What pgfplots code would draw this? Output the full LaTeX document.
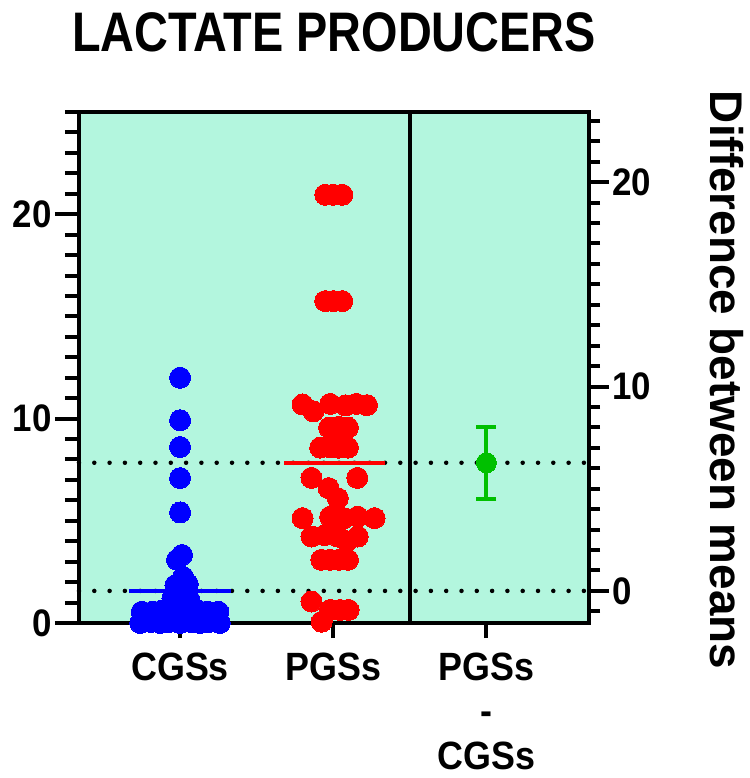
\documentclass[border=0pt]{standalone}
\usepackage{pgfplots}
\pgfplotsset{compat=1.18}
\usepackage{fontspec}
\setmainfont{Liberation Sans}
\usepackage{graphicx}
\definecolor{bg}{RGB}{179,246,222}
\definecolor{myblue}{RGB}{0,0,255}
\definecolor{myred}{RGB}{255,0,0}
\definecolor{mygreen}{RGB}{0,192,0}
\newcommand{\tl}[1]{\scalebox{1}[1.1]{#1}}

\pgfplotstableread{
x y
0 12.0
0 9.92
0 8.61
0 7.09
0 5.41
0.013 3.33
-0.02 3.09
0.02 2.25
-0.03 1.85
0.05 1.9
0.0 1.45
-0.05 1.2
0.06 1.15
0.0 0.95
-0.25 0.55
-0.18 0.55
-0.12 0.6
-0.05 0.55
0.05 0.55
0.12 0.6
0.18 0.55
0.25 0.55
-0.2 0.25
-0.13 0.25
-0.07 0.3
0 0.25
0.07 0.25
0.13 0.3
0.2 0.25
-0.26 0.0
-0.19 0.05
-0.13 0.0
-0.07 0.05
0 0.0
0.07 0.05
0.13 0.0
0.19 0.05
0.26 0.0
}\cgs

\pgfplotstableread{
x y
0.948 20.95
1.0 20.95
1.059 20.95
0.948 15.75
1.0 15.75
1.059 15.75
0.80 10.69
0.87 10.36
0.98 10.72
1.08 10.65
1.15 10.72
1.22 10.66
0.973 9.56
1.035 9.6
1.096 9.56
0.915 8.58
0.976 8.6
1.035 8.58
1.096 8.58
0.858 7.1
1.157 7.1
0.97 6.6
1.03 6.1
0.80 5.13
0.98 5.2
1.07 5.13
1.16 5.2
1.27 5.13
0.858 4.23
0.945 4.3
1.03 4.23
1.16 4.23
1.09 4.0
0.922 3.09
0.98 3.09
1.037 3.09
1.096 3.09
0.858 1.05
0.98 0.64
1.044 0.64
1.10 0.64
0.924 0.06
}\pgs

\begin{document}
\begin{tikzpicture}
\path[use as bounding box] (-79bp,-155bp) rectangle (671bp,623bp);
\begin{axis}[
  scale only axis, width=510bp, height=511bp,
  xmin=-0.66, xmax=2.67, ymin=0, ymax=25,
  axis background/.style={fill=bg},
  axis line style={line width=4.5bp},
  every tick/.style={line width=4bp, black},
  tick align=outside,
  ytick pos=left, xtick pos=bottom,
  major tick length=24bp, minor tick length=14bp,
  xtick style={/pgfplots/major tick length=15bp},
  ytick={0,10,20}, yticklabels={\tl{0},\tl{10},\tl{20}},
  minor ytick={1,...,25},
  xtick={0,1,2},
  xticklabels={\tl{CGSs}, \tl{PGSs}, {\tl{PGSs}\\\tl{-}\\\tl{CGSs}}},
  xticklabel style={font=\fontsize{36}{45}\selectfont\bfseries, align=center, anchor=north, yshift=-2bp},
  yticklabel style={font=\fontsize{35}{35}\selectfont\bfseries},
  clip=false,
]
\addplot[black, line width=4.5bp, line cap=round, dash pattern=on 0pt off 15.3bp] coordinates {(-0.66,1.57) (1.5,1.57) (2.67,1.57)};
\addplot[black, line width=4.5bp, line cap=round, dash pattern=on 0pt off 15.3bp] coordinates {(-0.66,7.84) (1.5,7.84) (2.67,7.84)};
\addplot[black, line width=4.5bp] coordinates {(1.5,0) (1.5,25)};
\addplot[only marks, mark=*, mark size=10.5bp, mark options={fill=myblue, draw=myblue, line width=0pt}] table {\cgs};
\addplot[only marks, mark=*, mark size=10.5bp, mark options={fill=myred, draw=myred, line width=0pt}] table {\pgs};
\addplot[myblue, line width=4bp] coordinates {(-0.333,1.57) (0.333,1.57)};
\addplot[myred, line width=4bp] coordinates {(0.68,7.84) (1.34,7.84)};
\end{axis}
\begin{axis}[
  scale only axis, width=510bp, height=511bp,
  xmin=-0.66, xmax=2.67, ymin=-1.57, ymax=23.43,
  axis x line=none, axis y line*=right,
  axis line style={line width=4.5bp},
  every tick/.style={line width=4bp, black},
  tick align=outside,
  major tick length=20bp, minor tick length=11bp,
  ytick={0,10,20}, yticklabels={\tl{0},\tl{10},\tl{20}},
  minor ytick={-1,...,23},
  yticklabel style={font=\fontsize{35}{35}\selectfont\bfseries},
  clip=false,
]
\addplot[mygreen, line width=4bp, only marks, mark=*, mark size=10bp,
  mark options={fill=mygreen, draw=mygreen, line width=0pt},
  error bars/.cd, y dir=both, y explicit,
  error bar style={line width=4bp, mygreen},
  error mark options={rotate=90, mark size=10bp, line width=4bp, mygreen}]
  coordinates {(2,6.27) +- (0,1.76)};
\end{axis}
\node at (255bp,591bp) {\fontsize{47}{50}\selectfont\bfseries\scalebox{1}[1.19]{LACTATE PRODUCERS}};
\node[rotate=-90] at (648bp,243bp) {\fontsize{46}{46}\selectfont\bfseries Difference between means};
\end{tikzpicture}
\end{document}
